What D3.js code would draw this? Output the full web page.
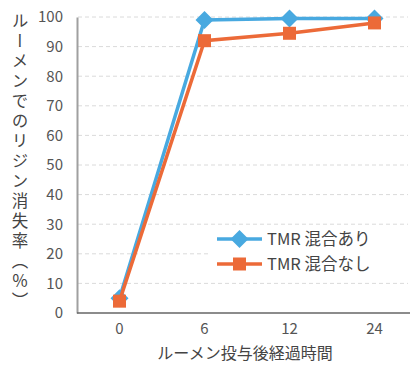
<!DOCTYPE html>
<html>
<head>
<meta charset="utf-8">
<script src="https://cdn.jsdelivr.net/npm/d3@7/dist/d3.min.js"></script>
<style>
  html, body { margin: 0; padding: 0; background: #fff; }
  svg { display: block; }
  text { font-family: "Noto Sans CJK JP", "Noto Sans", sans-serif; }
</style>
</head>
<body>
<svg id="chart" width="410" height="367"></svg>
<script>
// Hours after ruminal dosing (categorical axis)
const hours = ["0", "6", "12", "24"];
// Ruminal lysine disappearance (%)
const withTMR = [5, 99, 99.5, 99.5];
const withoutTMR = [4, 92, 94.5, 98];
const yTicks = [0, 10, 20, 30, 40, 50, 60, 70, 80, 90, 100];
const seriesNames = ["TMR 混合あり", "TMR 混合なし"];
const colors = ["#48a9e0", "#ec6a38"];

const svg = d3.select("#chart");
const x = d3.scaleBand().domain(hours).range([77, 417]);
const y = d3.scaleLinear().domain([0, 100]).range([313, 17]);
const cx = d => x(d) + x.bandwidth() / 2;

// Dashed horizontal gridlines
svg.append("g").selectAll("line").data(yTicks.filter(t => t > 0)).join("line")
  .attr("x1", 78).attr("x2", 408)
  .attr("y1", d => y(d)).attr("y2", d => y(d))
  .attr("stroke", "#dadada").attr("stroke-width", 1)
  .attr("stroke-dasharray", "4,3");

// Y axis
const yAxis = svg.append("g").attr("transform", "translate(77,0)")
  .call(d3.axisLeft(y).tickValues(yTicks).tickSize(0).tickPadding(14));
yAxis.select(".domain").attr("stroke", "#a0a0a0").attr("stroke-width", 2);
yAxis.selectAll("text").attr("font-size", 15).attr("fill", "#555")
  .attr("font-family", "Liberation Sans, Arial, sans-serif");

// X axis
const xAxis = svg.append("g").attr("transform", "translate(0,313)")
  .call(d3.axisBottom(x).tickSize(0).tickPadding(10));
xAxis.select(".domain").attr("stroke", "#666").attr("stroke-width", 1.5)
  .attr("d", "M77,0H410");
xAxis.selectAll("text").attr("font-size", 15).attr("fill", "#555")
  .attr("font-family", "Liberation Sans, Arial, sans-serif");

// Axis titles
svg.append("text")
  .attr("x", 245).attr("y", 359)
  .attr("text-anchor", "middle")
  .attr("font-size", 16).attr("fill", "#444")
  .text("ルーメン投与後経過時間");

svg.append("text")
  .attr("x", 20).attr("y", 12)
  .attr("font-size", 16.5).attr("fill", "#444")
  .style("writing-mode", "vertical-rl")
  .style("letter-spacing", "3.5px")
  .text("ルーメンでのリジン消失率（％）");

// Series: line then markers, TMR series first so the other sits on top
const line = d3.line().x((d, i) => cx(hours[i])).y(d => y(d));
const sq = 13, dm = 9;
const diamond = `M0,${-dm}L${dm},0L0,${dm}L${-dm},0Z`;

svg.append("path").datum(withTMR)
  .attr("fill", "none").attr("stroke", colors[0]).attr("stroke-width", 3.5)
  .attr("d", line);
svg.append("g").selectAll("path").data(withTMR).join("path")
  .attr("transform", (d, i) => `translate(${cx(hours[i])},${y(d)})`)
  .attr("d", diamond)
  .attr("fill", colors[0]);

svg.append("path").datum(withoutTMR)
  .attr("fill", "none").attr("stroke", colors[1]).attr("stroke-width", 3.5)
  .attr("d", line);
svg.append("g").selectAll("rect").data(withoutTMR).join("rect")
  .attr("x", (d, i) => cx(hours[i]) - sq / 2)
  .attr("y", d => y(d) - sq / 2)
  .attr("width", sq).attr("height", sq)
  .attr("fill", colors[1]);

// Legend
const legend = svg.append("g");
legend.append("rect").attr("x", 210).attr("y", 229).attr("width", 198).attr("height", 46)
  .attr("fill", "#fff");
seriesNames.forEach((name, i) => {
  const ly = 239 + i * 25;
  legend.append("line").attr("x1", 217).attr("x2", 262).attr("y1", ly).attr("y2", ly)
    .attr("stroke", colors[i]).attr("stroke-width", 3.5);
  if (i === 0) {
    legend.append("path").attr("transform", `translate(239.5,${ly})`)
      .attr("d", diamond).attr("fill", colors[0]);
  } else {
    legend.append("rect").attr("x", 239.5 - sq / 2).attr("y", ly - sq / 2)
      .attr("width", sq).attr("height", sq).attr("fill", colors[1]);
  }
  legend.append("text").attr("x", 267).attr("y", ly + 6)
    .attr("font-size", 16.5).attr("fill", "#444").text(name);
});
</script>
</body>
</html>
